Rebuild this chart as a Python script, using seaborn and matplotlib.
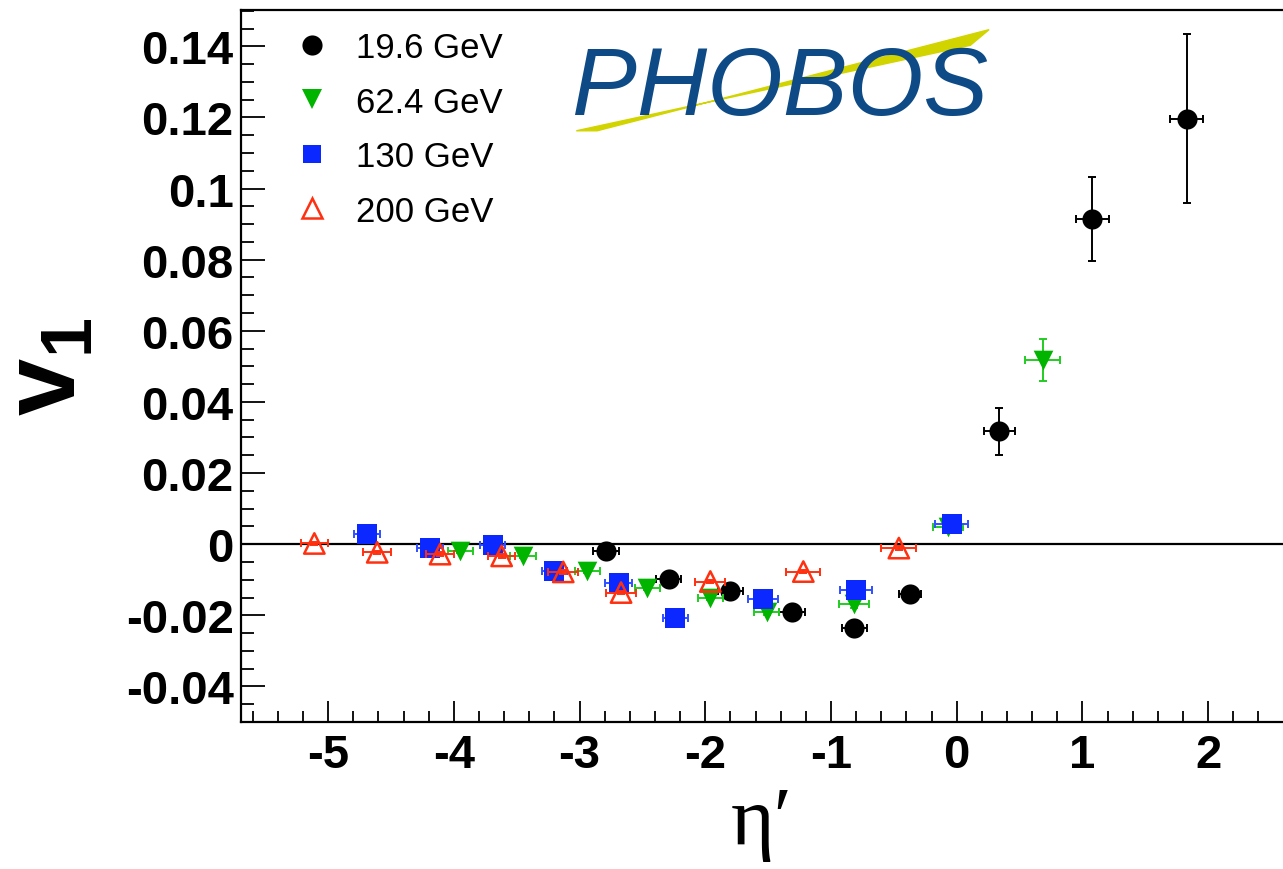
import numpy as np
import pandas as pd
import seaborn as sns
import matplotlib
matplotlib.use("Agg")
import matplotlib.pyplot as plt
from matplotlib.lines import Line2D
from matplotlib.patches import Polygon
from matplotlib.ticker import MultipleLocator, FuncFormatter

# ---------------- data ----------------
labels = ["19.6 GeV", "62.4 GeV", "130 GeV", "200 GeV"]

eta_196 = [-2.79, -2.29, -1.80, -1.31, -0.815, -0.37, 0.34, 1.08, 1.83]
v1_196 = [-0.0019, -0.0098, -0.0131, -0.0192, -0.0237, -0.0140, 0.0317, 0.0914, 0.1197]
ey_196 = [0.0008, 0.0008, 0.0008, 0.0008, 0.0008, 0.0010, 0.0065, 0.0118, 0.0237]
ex_196 = [0.10, 0.10, 0.10, 0.10, 0.10, 0.09, 0.12, 0.13, 0.13]

eta_624 = [-3.95, -3.45, -2.94, -2.46, -1.96, -1.51, -0.815, -0.07, 0.685]
v1_624 = [-0.0019, -0.0033, -0.0075, -0.0122, -0.0150, -0.0192, -0.0169, 0.0047, 0.0518]
ey_624 = [0.0006, 0.0006, 0.0006, 0.0006, 0.0008, 0.0008, 0.0010, 0.0010, 0.0058]
ex_624 = [0.10, 0.10, 0.10, 0.10, 0.10, 0.10, 0.12, 0.12, 0.14]

eta_130 = [-4.69, -4.19, -3.69, -3.20, -2.69, -2.24, -1.54, -0.80, -0.04]
v1_130 = [0.0028, -0.0012, -0.0003, -0.0075, -0.0110, -0.0209, -0.0154, -0.0128, 0.0056]
ey_130 = [0.0006, 0.0006, 0.0006, 0.0006, 0.0006, 0.0006, 0.0006, 0.0006, 0.0006]
ex_130 = [0.105, 0.10, 0.10, 0.10, 0.11, 0.10, 0.12, 0.13, 0.13]

eta_200 = [-5.11, -4.61, -4.11, -3.62, -3.13, -2.67, -1.96, -1.22, -0.46]
v1_200 = [0.0002, -0.0023, -0.0028, -0.0033, -0.0078, -0.0136, -0.0105, -0.0077, -0.0011]
ey_200 = [0.0005, 0.0005, 0.0005, 0.0005, 0.0005, 0.0005, 0.0005, 0.0005, 0.0005]
ex_200 = [0.105, 0.11, 0.11, 0.11, 0.12, 0.12, 0.12, 0.135, 0.14]

x_ticks = [-5, -4, -3, -2, -1, 0, 1, 2]
y_ticks = [-0.04, -0.02, 0.0, 0.02, 0.04, 0.06, 0.08, 0.10, 0.12, 0.14]

# ---------------- style ----------------
sns.set_theme(style="ticks")
plt.rcParams["font.family"] = ["Liberation Sans", "DejaVu Sans"]
plt.rcParams["axes.unicode_minus"] = False
plt.rcParams["mathtext.fontset"] = "custom"
plt.rcParams["mathtext.rm"] = "Liberation Sans"
plt.rcParams["mathtext.bf"] = "Liberation Sans:bold"
plt.rcParams["text.color"] = "black"
plt.rcParams["axes.labelcolor"] = "black"
plt.rcParams["xtick.color"] = "black"
plt.rcParams["ytick.color"] = "black"
plt.rcParams["xtick.labelcolor"] = "black"
plt.rcParams["ytick.labelcolor"] = "black"

BLACK = "#000000"
GREEN = "#00b400"
GREEN_E = "#22cc22"
BLUE = "#0a28ff"
BLUE_E = "#3050ff"
RED = "#ff3010"

fig = plt.figure(figsize=(12.83, 8.70), dpi=100)
ax = fig.add_axes([0.1876, 0.169, 0.8124, 0.8187])

ax.axhline(0, color="black", lw=1.6, zorder=1)

series = [
    (eta_196, v1_196, ex_196, ey_196, BLACK, BLACK, "o", 210),
    (eta_624, v1_624, ex_624, ey_624, GREEN, GREEN_E, "v", 200),
    (eta_130, v1_130, ex_130, ey_130, BLUE, BLUE_E, "s", 190),
    (eta_200, v1_200, ex_200, ey_200, RED, RED, "^", 215),
]

for i, (x, y, ex, ey, col, ecol, mk, s) in enumerate(series):
    ax.errorbar(x, y, xerr=ex, yerr=ey, fmt="none", ecolor=ecol,
                elinewidth=1.4, capsize=3, capthick=1.4, zorder=2 + i)
    df = pd.DataFrame({"eta": x, "v1": y})
    sns.scatterplot(data=df, x="eta", y="v1", marker=mk, s=s, color=col,
                    linewidth=0, ax=ax, legend=False, zorder=3 + i)
    if mk == "^":
        coll = ax.collections[-1]
        coll.set_facecolor("none")
        coll.set_edgecolor(RED)
        coll.set_linewidth(1.8)

ax.xaxis.set_minor_locator(MultipleLocator(0.2))
ax.yaxis.set_minor_locator(MultipleLocator(0.005))
ax.set_xticks(x_ticks)
ax.set_yticks(y_ticks)
ax.xaxis.set_major_formatter(FuncFormatter(lambda v, p: "%g" % round(v, 3)))
ax.yaxis.set_major_formatter(FuncFormatter(lambda v, p: "%g" % round(v, 3)))
ax.set_xlim(-5.696, 2.596)
ax.set_ylim(-0.05, 0.1503)

ax.tick_params(axis="both", which="both", direction="in", top=False, right=False,
               color="black", width=1.3, labelcolor="black")
ax.tick_params(axis="x", which="major", length=15, pad=8, labelsize=34)
ax.tick_params(axis="x", which="minor", length=8)
ax.tick_params(axis="y", which="major", length=17, pad=5, labelsize=34)
ax.tick_params(axis="y", which="minor", length=9.5)
for lab in ax.get_xticklabels() + ax.get_yticklabels():
    lab.set_fontweight("bold")

for side in ["left", "bottom", "top"]:
    ax.spines[side].set_linewidth(1.6)
    ax.spines[side].set_color("black")
ax.spines["right"].set_visible(False)

ax.set_xlabel("η′", fontsize=60, family=["Liberation Serif", "DejaVu Serif"],
              labelpad=6, color="black")
ax.set_ylabel(r"$\mathbf{v}_{\mathbf{1}}$", fontsize=74, labelpad=20, color="black")

# legend
handles = [
    Line2D([], [], ls="none", marker="o", ms=14.5, mfc=BLACK, mec=BLACK, mew=0),
    Line2D([], [], ls="none", marker="v", ms=14, mfc=GREEN, mec=GREEN, mew=0),
    Line2D([], [], ls="none", marker="s", ms=13.5, mfc=BLUE, mec=BLUE, mew=0),
    Line2D([], [], ls="none", marker="^", ms=14, mfc="none", mec=RED, mew=1.8),
]
leg = ax.legend(handles, labels, loc="upper left", bbox_to_anchor=(0.052, 0.97),
                frameon=False, fontsize=25, handlelength=1.0, handletextpad=0.76,
                labelspacing=0.62, borderpad=0, borderaxespad=0)
for t in leg.get_texts():
    t.set_color("black")

# logo (approximation of the PHOBOS logo)
band = Polygon([(0.322, 0.830), (0.342, 0.830), (0.718, 0.972), (0.700, 0.950)],
               closed=True, transform=ax.transAxes, color="#d2d400", zorder=5)
ax.add_patch(band)
ax.text(0.517, 0.888, "PHOBOS", transform=ax.transAxes, ha="center", va="center",
        fontsize=70, color="#0d4a86", zorder=6, fontstyle="italic")

fig.savefig("out.png", dpi=100)
